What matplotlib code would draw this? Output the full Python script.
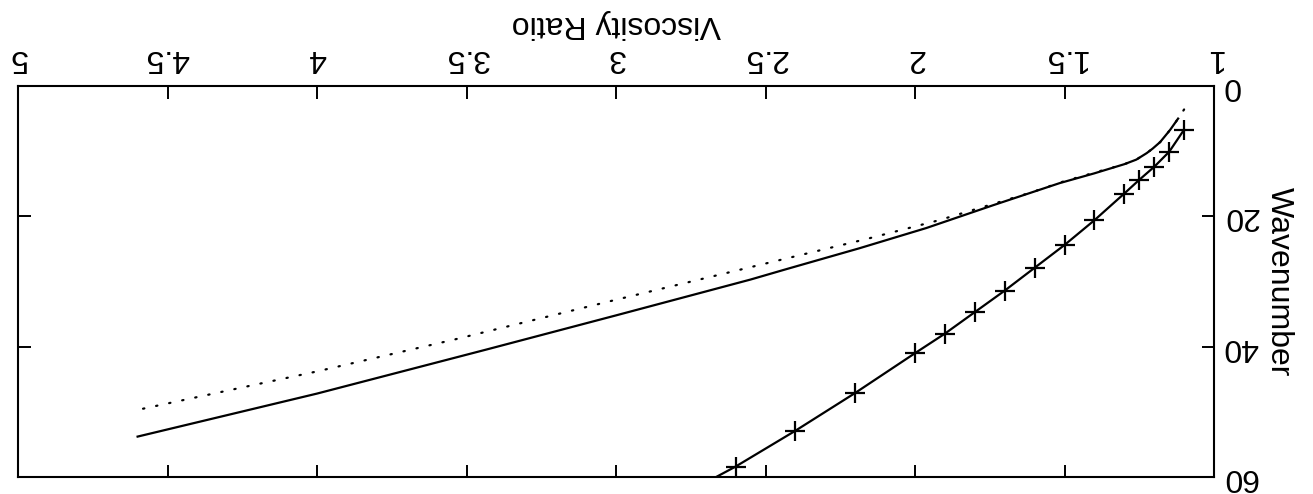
import numpy as np
import matplotlib
matplotlib.use("Agg")
import matplotlib.pyplot as plt

plt.rcParams['font.family'] = ['Liberation Sans', 'DejaVu Sans']

# curva com marcadores "+"
plus_v = [1.10, 1.15, 1.20, 1.25, 1.30, 1.40, 1.50, 1.60, 1.70, 1.80, 1.90, 2.00, 2.20, 2.40, 2.60]
plus_k = [6.7, 10.1, 12.4, 14.4, 16.5, 20.6, 24.4, 27.9, 31.4, 34.7, 38.0, 41.0, 47.1, 52.9, 58.4]
# a linha continua ate a borda inferior
plus_line_v = plus_v + [2.665]
plus_line_k = plus_k + [60.0]

# curva continua (sem marcadores)
solid_v = [1.12, 1.147, 1.18, 1.205, 1.225, 1.26, 1.30, 1.40, 1.516, 1.739, 1.9625, 2.186, 2.43, 2.55, 3.0, 3.43, 4.0, 4.6]
solid_k = [5.0, 6.75, 8.6, 9.6, 10.3, 11.3, 12.0, 13.4, 14.9, 18.3, 21.8, 24.9, 28.1, 29.7, 35.2, 40.4, 47.2, 53.8]

# curva pontilhada
dot_v = [1.10, 1.12, 1.147, 1.18, 1.205, 1.225, 1.26, 1.30, 1.40, 1.50, 1.616, 1.92, 2.164, 2.55, 3.0, 3.54, 4.0, 4.59]
dot_k = [3.6, 5.0, 6.75, 8.6, 9.6, 10.3, 11.3, 12.0, 13.3, 14.6, 16.4, 20.6, 23.5, 27.8, 32.8, 38.9, 43.8, 49.6]

x_ticks = [1, 1.5, 2, 2.5, 3, 3.5, 4, 4.5, 5]
x_tick_labels = ['1', '1.5', '2', '2.5', '3', '3.5', '4', '4.5', '5']
y_ticks = [0, 20, 40, 60]

fig = plt.figure(figsize=(13.13, 4.94), dpi=100)
ax = fig.add_axes([18 / 1313, 1 - 477 / 494, 1196 / 1313, 391 / 494])

ax.plot(solid_v, solid_k, color='black', lw=1.6)
ax.plot(dot_v, dot_k, color='black', lw=1.6, linestyle=(0, (0.6, 5.4)),
        dash_capstyle='round')
ax.plot(plus_line_v, plus_line_k, color='black', lw=1.6)
ax.plot(plus_v, plus_k, color='black', linestyle='None', marker='+',
        markersize=15, markeredgewidth=1.6)

# grafico girado 180 graus
ax.set_xlim(5, 1)
ax.set_ylim(60, 0)
ax.set_xticks(x_ticks)
ax.set_xticklabels(x_tick_labels)
ax.set_yticks(y_ticks)

ax.tick_params(direction='in', top=True, bottom=True, left=True, right=True,
               labeltop=True, labelbottom=False, labelright=True, labelleft=False,
               length=9, width=1.4, labelsize=23, labelrotation=180)
ax.tick_params(axis='x', pad=9)
ax.tick_params(axis='y', pad=6)
for lbl in ax.get_yticklabels():
    lbl.set_va('center')
for s in ax.spines.values():
    s.set_linewidth(1.5)

ax.xaxis.set_label_position('top')
ax.set_xlabel('Viscosity Ratio', fontsize=23, rotation=180)
ax.xaxis.label.set_va('center')
ax.xaxis.set_label_coords(0.5, 1.158)

ax.yaxis.set_label_position('right')
ax.set_ylabel('Wavenumber', fontsize=23, rotation=270)
ax.yaxis.label.set_rotation_mode('default')
ax.yaxis.label.set_va('center')
ax.yaxis.label.set_ha('center')
ax.yaxis.set_label_coords(1.054, 0.5)

fig.savefig('out.png', dpi=100)
